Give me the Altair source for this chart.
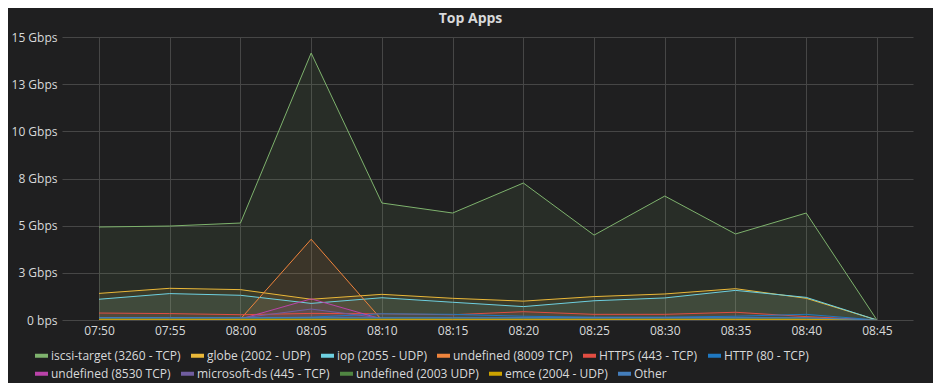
import altair as alt
import pandas as pd

times = ["07:50", "07:55", "08:00", "08:05", "08:10", "08:15", "08:20",
         "08:25", "08:30", "08:35", "08:40", "08:45"]

series_names = [
    "iscsi-target (3260 - TCP)", "globe (2002 - UDP)", "iop (2055 - UDP)",
    "undefined (8009 TCP)", "HTTPS (443 - TCP)", "HTTP (80 - TCP)",
    "undefined (8530 TCP)", "microsoft-ds (445 - TCP)", "undefined (2003 UDP)",
    "emce (2004 - UDP)", "Other",
]
series_colors = ["#7EB26D", "#EAB839", "#6ED0E0", "#EF843C", "#E24D42", "#1F78C1",
                 "#BA43A9", "#705DA0", "#508642", "#CCA300", "#447EBC"]

# values in Gbps
iscsi_target = [4.93, 4.98, 5.14, 14.15, 6.2, 5.67, 7.26, 4.5, 6.57, 4.56, 5.67, 0]
globe = [1.41, 1.68, 1.61, 1.10, 1.36, 1.15, 1.0, 1.24, 1.38, 1.66, 1.15, 0]
iop = [1.10, 1.40, 1.31, 0.88, 1.18, 0.94, 0.71, 1.02, 1.17, 1.57, 1.20, 0]
undef_8009 = [0, 0, 0.05, 4.28, 0, 0, 0, 0, 0, 0, 0, 0]
https = [0.37, 0.34, 0.28, 0.35, 0.33, 0.28, 0.44, 0.30, 0.30, 0.41, 0.18, 0]
http = [0.12, 0.12, 0.10, 0.15, 0.33, 0.30, 0.20, 0.15, 0.15, 0.20, 0.30, 0]
undef_8530 = [0.05, 0.05, 0.05, 1.12, 0.05, 0.05, 0.05, 0.05, 0.05, 0.05, 0.05, 0]
microsoft_ds = [0.10, 0.10, 0.10, 0.58, 0.10, 0.10, 0.10, 0.10, 0.10, 0.10, 0.10, 0]
undef_2003 = [0.07, 0.07, 0.07, 0.07, 0.07, 0.07, 0.07, 0.07, 0.07, 0.07, 0.07, 0]
emce = [0.03, 0.03, 0.03, 0.03, 0.03, 0.03, 0.03, 0.03, 0.03, 0.03, 0.03, 0]
other = [0.12, 0.12, 0.12, 0.12, 0.12, 0.12, 0.12, 0.12, 0.12, 0.12, 0.12, 0]

y_ticks = [0, 2.5, 5, 7.5, 10, 12.5, 15]

all_values = [iscsi_target, globe, iop, undef_8009, https, http, undef_8530,
              microsoft_ds, undef_2003, emce, other]

rows = []
for order, (name, vals) in enumerate(zip(series_names, all_values)):
    for t, v in zip(times, vals):
        rows.append({"series": name, "order": order,
                     "time": f"2024-01-01T{t}:00", "value": v})
df = pd.DataFrame(rows)

x_ticks = [alt.DateTime(year=2024, month=1, date=1, hours=int(t[:2]), minutes=int(t[3:]))
           for t in times]

font = "Open Sans"
label_color = "#d8d9da"
grid_color = "#464646"

x = alt.X("time:T",
          scale=alt.Scale(domain=[alt.DateTime(year=2024, month=1, date=1, hours=7, minutes=47, seconds=23),
                                  alt.DateTime(year=2024, month=1, date=1, hours=8, minutes=47, seconds=33)]),
          axis=alt.Axis(values=x_ticks, format="%H:%M", title=None, ticks=False, domain=False,
                        grid=True, gridColor=grid_color, labelColor=label_color,
                        labelFont=font, labelFontSize=12, labelPadding=5, labelFlush=False))
y = alt.Y("value:Q", stack=None,
          scale=alt.Scale(domain=[0, 15], nice=False),
          axis=alt.Axis(values=y_ticks, title=None, ticks=False, domain=False,
                        grid=True, gridColor=grid_color, labelColor=label_color,
                        labelFont=font, labelFontSize=12, labelPadding=5,
                        labelExpr="datum.value == 0 ? '0 bps' : round(datum.value) + ' Gbps'"))


def legend_row(ypos):
    return alt.Legend(title=None, orient="none", legendX=-29, legendY=ypos,
                      direction="horizontal",
                      symbolType="stroke", symbolSize=169, symbolStrokeWidth=4,
                      labelColor=label_color, labelFont=font, labelFontSize=12,
                      columnPadding=2, labelOffset=1, symbolOpacity=1)


row1_names, row1_colors = series_names[:6], series_colors[:6]
row2_names, row2_colors = series_names[6:], series_colors[6:]

base = alt.Chart(df)
area = base.mark_area(opacity=0.1, interpolate="linear", clip=True).encode(
    x=x, y=y,
    fill=alt.Fill("series:N", scale=alt.Scale(domain=series_names, range=series_colors), legend=None),
    order=alt.Order("order:Q"))
line1 = base.transform_filter(alt.FieldOneOfPredicate(field="series", oneOf=row1_names)).mark_line(
    strokeWidth=1, clip=True).encode(
    x=x, y=y,
    stroke=alt.Stroke("series:N", scale=alt.Scale(domain=row1_names, range=row1_colors),
                      legend=legend_row(310)),
    order=alt.Order("order:Q"))
line2 = base.transform_filter(alt.FieldOneOfPredicate(field="series", oneOf=row2_names)).mark_line(
    strokeWidth=1, clip=True).encode(
    x=x, y=y,
    color=alt.Color("series:N", scale=alt.Scale(domain=row2_names, range=row2_colors),
                    legend=legend_row(328)),
    order=alt.Order("order:Q"))

chart = alt.layer(area, line1, line2).properties(
    width=851, height=283,
    background="#1f1f20",
    padding={"left": 54, "top": 29, "right": 20, "bottom": 63},
    autosize=alt.AutoSizeParams(type="none"),
    title=alt.Title("Top Apps", anchor="middle", dx=-17, offset=5, fontSize=14,
                    fontWeight="bold", color=label_color, font=font),
).configure_view(stroke=None)

chart.save("out.html", embed_options={"renderer": "svg", "actions": False})
